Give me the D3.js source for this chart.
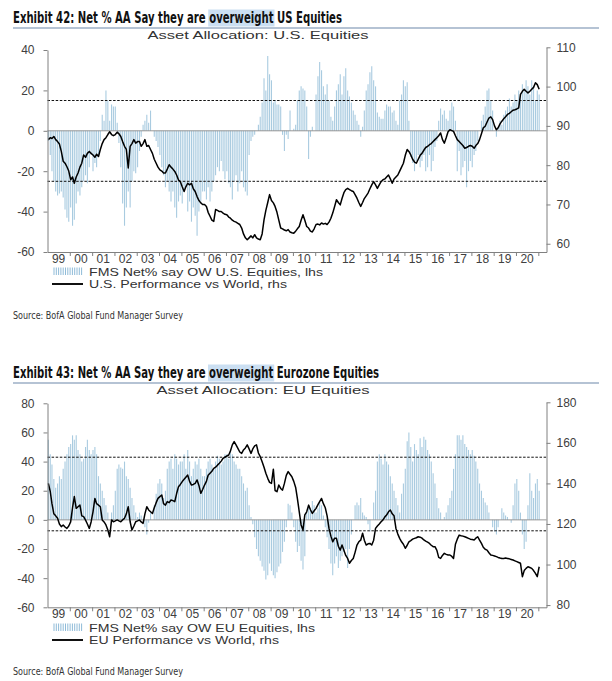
<!DOCTYPE html>
<html><head><meta charset="utf-8">
<script src="https://cdn.jsdelivr.net/npm/d3@7"></script>
<style>
html,body{margin:0;padding:0;background:#fff;}
svg{display:block;}
.ax text{font-family:"Liberation Sans",Arial,sans-serif;font-size:12px;fill:#404040;}
.ax path,.ax line{stroke:#808080;stroke-width:1;}
</style></head><body>
<svg id="c" width="612" height="681"></svg>
<script>
// ---- data (monthly, Jan 1999 .. Jan 2021) ----
const usNetOW = [
-5,-12,-20,-25,-30,-32,-31,-30,-33,-39,-43,-45,
-38,-47,-44,-36,-30,-32,-28,-25,-22,-26,-18,-12,
-20,-16,-18,-12,-5,8,5,20,15,5,13,12,
12,4,-6,-18,-36,-47,-38,-30,-38,-25,-20,-21,
-18,-10,-3,3,5,8,4,10,0,-3,-5,-8,
-12,-18,-22,-28,-25,-30,-35,-30,-38,-43,-35,-32,
-36,-30,-28,-40,-35,-45,-38,-42,-52,-40,-35,-30,
-30,-34,-28,-35,-30,-25,-22,-18,-20,-15,-20,-24,
-20,-26,-28,-34,-25,-22,-30,-26,-20,-28,-30,-32,
-12,-5,-3,-2,0,3,7,14,26,20,37,28,
25,14,15,13,13,12,-2,-10,-2,-4,10,0,
1,3,15,20,22,21,20,12,-14,-3,2,0,
18,27,34,30,22,18,23,15,7,5,12,20,
23,28,18,27,31,20,17,14,10,8,5,3,
-3,2,10,20,23,29,32,25,22,9,7,6,
6,10,13,12,12,9,10,5,3,15,18,25,
22,24,5,-13,-16,-20,-15,-12,-18,-15,-12,-20,
-18,-12,-20,-15,-8,-5,5,11,8,10,6,5,
10,14,12,5,-20,-10,-22,-18,-15,-28,-20,-15,
-18,-12,-10,-5,0,5,8,12,20,21,15,10,
0,-3,2,5,3,8,10,12,16,12,14,18,
15,20,18,23,20,25,22,18,25,22,15,20,
18];
const usPerf = [
86.5,87,86.8,87.3,86.5,86,85.4,83.5,81,80.5,79.6,78.5,
76.3,77,75.4,77,78,79.5,80.5,82.6,82,83,83.5,83,
82.6,82,82.8,82.2,84,85.5,86.5,87,87.8,88.5,87.8,87.5,
87.8,88.4,88,87.3,86,84.8,84,79.3,84.8,85.5,86.5,85.6,
86,86,84.8,85.5,86.5,84.8,85,84,83,81.5,80.5,79.5,
78.8,78.5,78,78,79,80.1,79.5,79,78.4,77.5,76.2,75.8,
74.5,73.3,74.5,75.4,75,75.4,74,73.3,72,71,70.4,70,
70,69.5,68,67,66,65.7,68.7,68.5,68.2,68.2,67.8,67.5,
67.4,66.8,66.5,66,65.7,65.5,65.2,64.9,64,62.5,61.5,61,
61.5,62,61.5,62.3,61.5,61.2,61,62.5,66.1,68.5,70.5,72.5,
71,70.4,69.5,68,66,64,63.8,63.5,63.3,63.6,63,62.8,
62.7,63.2,63.8,64.4,66,67.4,66,64.4,64,63.2,63,63.8,
64.9,65,64.8,65.3,65,65.2,64.9,65.5,66.5,67.8,69.5,71.2,
70.5,69.9,71.5,73,73.8,74.1,73.8,73.5,73.3,72.5,71.6,70.5,
69.5,70.5,71.5,72.2,72.9,74,75,75.8,75,74.1,75,75.8,
76.3,76.5,77,77.5,76.5,75.4,76.5,77,77.5,78.5,79.5,80.5,
82.5,84,83.5,82.6,81.5,80.8,80.5,81.5,82.5,83,83.8,84.5,
84.8,85.2,85.5,86,86.5,87,87.5,88.2,86.5,85.6,87,88.5,
89,88.8,88.6,87.5,86.5,86,85.5,85,84.3,84.5,84.8,85,
84.8,84.3,85,85.5,86.5,88,89.5,89.9,91,92,92.3,91.6,
90,89,89.5,90.5,91.2,91.8,92.3,92.9,93.2,93.6,94,94.1,
94.3,94.6,98,98.8,99.3,98.8,98.4,98.8,99.3,99.8,101,100.5,
99.3];
const euNetOW = [
55,45,38,28,22,25,30,28,35,40,45,50,
52,58,55,58,48,45,40,42,50,55,48,45,
48,50,45,30,25,20,15,10,5,0,5,10,
20,35,38,36,35,40,30,28,22,15,10,5,
2,5,3,0,-5,-10,-2,5,0,10,18,25,
28,25,15,20,35,40,42,35,45,42,38,40,
40,45,35,48,40,30,35,40,38,42,35,30,
30,35,40,42,38,35,40,44,42,38,40,45,
45,42,48,45,40,38,35,35,30,25,20,22,
10,2,-3,-12,-20,-25,-28,-32,-35,-41,-38,-30,
-35,-38,-40,-36,-32,-30,-22,-15,-5,11,10,5,
-5,-15,-22,-18,-28,-34,-25,5,10,8,13,10,
5,8,12,10,3,-5,-12,-20,-30,-38,-30,-25,
-33,-28,-25,-22,-20,-33,-20,-10,0,10,12,10,
15,5,3,2,-3,-8,0,12,20,40,45,42,
38,45,40,38,30,25,20,15,10,5,18,25,
35,54,60,50,40,52,48,45,56,50,57,55,
48,45,40,32,25,15,8,5,0,2,5,10,
15,20,35,45,58,58,55,58,52,50,48,45,
48,44,40,35,25,20,15,12,10,5,0,-5,
-8,-10,-5,0,8,5,3,2,0,-2,10,25,
28,20,5,-10,-20,-15,10,32,20,15,25,28,
20];
const euPerf = [
140,136,130,125,124,122.8,120,118.7,119.5,118.5,117.8,119,
121,128,133.5,127.7,128.5,129.3,124,123.6,121.9,120,117.8,121,
126,132.6,130,129.3,128.5,122,121,119.5,117,113.7,122,121.1,
121.5,122,121.5,121.1,122,122.8,125,128.5,121.1,117,119,121.1,
121.5,122,121,120.3,125,128.5,126.9,126,125.2,128,130.5,132.6,
133.5,134.3,130,129.3,131,130.5,131.8,131.5,131,135,138.4,139.5,
140.9,142,143,144.1,141,139.2,139.5,140,141.7,139,135.1,137,
139.2,141,144,145,146,147.4,148,149,149.9,151,152.4,153,
153.5,154,156,159,160.6,159,157.3,155.5,154.8,156.5,157.5,159,
157,154.8,157,158.5,159,155,153.2,150.7,148,145,142.5,140.5,
140,147,136.5,135.9,139.2,137.5,136.7,140,144,145.8,144.5,143.3,
141,138,132.6,126,119.5,117,124.5,126,129.3,127,125.2,126.5,
127.7,129.5,131,132.6,130,128,124,117.8,114,111.2,113,112.9,
109,107.1,109.6,107,104.5,103,100.6,102,103,106,109.6,111.2,
112,115.4,112,109.6,110.2,110.4,109.6,112,117.8,119,120,121.1,
122,123.5,124.4,126,126.9,125,124,117.8,115,112.9,111.2,110,
108,109.5,111.2,111.8,112.5,112.9,113.2,113.7,113.5,113,112.1,111.5,
111,110.4,109.5,108.8,108.8,107,103.5,103,104.5,105.5,105,104.7,
104.7,104,103,110,112.5,114.5,114.2,114,113.7,113.3,112.9,112.5,
112.3,112.1,113,113.7,112,110.4,108.5,107.5,107.1,105.8,104.7,104.5,
104.2,103.9,103.5,103.2,103,103,103.2,103,102.8,102.5,102.2,101.8,
101.4,101,100.6,94,97,98.1,98.9,98.5,98.1,97,95.6,94,
98.9];
const yearLabels = ["99","00","01","02","03","04","05","06","07","08","09","10","11","12","13","14","15","16","17","18","19","20"];
const usLeftTicks = [-60,-40,-20,0,20,40];
const usRightTicks = [60,70,80,90,100,110];
const euLeftTicks = [-60,-40,-20,0,20,40,60,80];
const euRightTicks = [80,100,120,140,160,180];
const usBands = [15,-25];
const euBands = [43,-7.5];

// ---- drawing ----
const svg = d3.select("#c");
const X0 = 47.5, X1 = 546.5;
const x = d3.scaleUtc()
  .domain([new Date(Date.UTC(1999,0,1)), new Date(Date.UTC(2021,4,15))])
  .range([X0, X1]);
const monthDate = i => new Date(Date.UTC(1999, i, 15));
const sansW = '"Liberation Sans",Arial,sans-serif';
const narrow = '"Liberation Sans Narrow","DejaVu Sans Condensed","Liberation Sans",sans-serif';

function panel(o) {
  const g = svg.append("g");
  // title with highlight
  const t = g.append("text").attr("x", 13).attr("y", o.titleY)
    .attr("font-family", narrow).attr("font-weight", "bold").attr("font-size", 15.5)
    .attr("fill", "#111").attr("textLength", o.titleLen).attr("lengthAdjust", "spacingAndGlyphs")
    .text(o.title);
  const node = t.node();
  const idx = o.title.indexOf("overweight");
  const s = node.getStartPositionOfChar(idx).x;
  const e = node.getEndPositionOfChar(idx + 9).x;
  g.insert("rect", ":first-child").attr("x", s - 1).attr("y", o.titleY - 13)
    .attr("width", e - s + 2).attr("height", 17).attr("fill", "#cbdff2");
  g.append("line").attr("x1", 13).attr("x2", 599).attr("y1", o.ruleY).attr("y2", o.ruleY)
    .attr("stroke", "#6c88aa").attr("stroke-width", 1.2);
  g.append("text").attr("x", o.subX).attr("y", o.subY).attr("text-anchor", "middle")
    .attr("font-family", sansW).attr("font-size", 11.5).attr("fill", "#333")
    .attr("textLength", o.subLen).attr("lengthAdjust", "spacingAndGlyphs").text(o.subtitle);

  const yL = d3.scaleLinear().domain(o.leftDomain).range([o.yB, o.yT]);
  const yR = d3.scaleLinear().domain(o.rightDomain).range([o.yB, o.yRT]);

  // bars
  g.append("g").selectAll("line").data(o.bars).join("line")
    .attr("x1", (d, i) => x(monthDate(i))).attr("x2", (d, i) => x(monthDate(i)))
    .attr("y1", yL(0)).attr("y2", d => yL(d))
    .attr("stroke", "#a9cbe0").attr("stroke-width", 1.1);
  // zero line
  g.append("line").attr("x1", X0).attr("x2", X1).attr("y1", yL(0)).attr("y2", yL(0))
    .attr("stroke", "#8a8a8a").attr("stroke-width", 0.9);
  // dashed bands
  g.append("g").selectAll("line").data(o.bands).join("line")
    .attr("x1", X0).attr("x2", X1).attr("y1", d => yL(d)).attr("y2", d => yL(d))
    .attr("stroke", "#111").attr("stroke-width", 1).attr("stroke-dasharray", "2.5,1.6");
  // performance line
  g.append("path").datum(o.line)
    .attr("d", d3.line().x((d, i) => x(monthDate(i))).y(d => yR(d)))
    .attr("fill", "none").attr("stroke", "#000").attr("stroke-width", 1.5).attr("stroke-linejoin", "round");

  // axes
  const fmt = d => String(d);
  g.append("g").attr("class", "ax").attr("transform", `translate(${X0},0)`)
    .call(d3.axisLeft(yL).tickValues(o.leftTicks).tickSize(4).tickSizeOuter(0).tickPadding(9).tickFormat(fmt));
  g.append("g").attr("class", "ax").attr("transform", `translate(${X1},0)`)
    .call(d3.axisRight(yR).tickValues(o.rightTicks).tickSize(4).tickSizeOuter(0).tickPadding(6).tickFormat(fmt));
  const years = d3.range(2000, 2022).map(y => new Date(Date.UTC(y, 0, 1)));
  g.append("g").attr("class", "ax").attr("transform", `translate(0,${o.yB})`)
    .call(d3.axisBottom(x).tickValues(years).tickSize(4).tickSizeOuter(0).tickFormat(""));
  g.append("g").attr("class", "ax").selectAll("text").data(yearLabels).join("text")
    .attr("x", (d, i) => x(new Date(Date.UTC(1999 + i, 6, 1))))
    .attr("y", o.yB + 10.5).attr("text-anchor", "middle").text(d => d);

  // legend
  const lg = g.append("g");
  lg.selectAll("line").data(d3.range(13)).join("line")
    .attr("x1", d => 54 + d * 2.3).attr("x2", d => 54 + d * 2.3)
    .attr("y1", o.legY - 8.5).attr("y2", o.legY - 1)
    .attr("stroke", "#8fbbd8").attr("stroke-width", 1);
  lg.append("line").attr("x1", 52).attr("x2", 83).attr("y1", o.legY + 8).attr("y2", o.legY + 8)
    .attr("stroke", "#111").attr("stroke-width", 2);
  lg.append("text").attr("x", 89).attr("y", o.legY).attr("font-family", sansW).attr("font-size", 10.5)
    .attr("fill", "#333").attr("textLength", o.leg1Len).attr("lengthAdjust", "spacingAndGlyphs").text(o.leg1);
  lg.append("text").attr("x", 89).attr("y", o.legY + 11.8).attr("font-family", sansW).attr("font-size", 10.5)
    .attr("fill", "#333").attr("textLength", o.leg2Len).attr("lengthAdjust", "spacingAndGlyphs").text(o.leg2);
  // source
  g.append("text").attr("x", 13).attr("y", o.srcY).attr("font-family", narrow).attr("font-size", 11)
    .attr("fill", "#333").attr("textLength", 170).attr("lengthAdjust", "spacingAndGlyphs")
    .text("Source: BofA Global Fund Manager Survey");
}

panel({
  title: "Exhibit 42: Net % AA Say they are overweight US Equities", titleY: 22.5, titleLen: 329, ruleY: 28,
  subtitle: "Asset Allocation: U.S. Equities", subX: 258, subY: 39, subLen: 221,
  yT: 50, yB: 252, yRT: 47.3, leftDomain: [-60, 40], rightDomain: [57.9, 110],
  leftTicks: usLeftTicks, rightTicks: usRightTicks, bands: usBands,
  bars: usNetOW, line: usPerf,
  legY: 276, leg1: "FMS Net% say OW U.S. Equities, lhs", leg1Len: 234,
  leg2: "U.S. Performance vs World, rhs", leg2Len: 198, srcY: 319
});
panel({
  title: "Exhibit 43: Net % AA Say they are overweight Eurozone Equities", titleY: 377.5, titleLen: 366, ruleY: 383,
  subtitle: "Asset Allocation: EU Equities", subX: 263, subY: 394, subLen: 213,
  yT: 403.3, yB: 607.3, yRT: 402.3, leftDomain: [-60, 80], rightDomain: [78.9, 180],
  leftTicks: euLeftTicks, rightTicks: euRightTicks, bands: euBands,
  bars: euNetOW, line: euPerf,
  legY: 632, leg1: "FMS Net% say OW EU Equities, lhs", leg1Len: 226,
  leg2: "EU Performance vs World, rhs", leg2Len: 190, srcY: 675
});
</script>
</body></html>
